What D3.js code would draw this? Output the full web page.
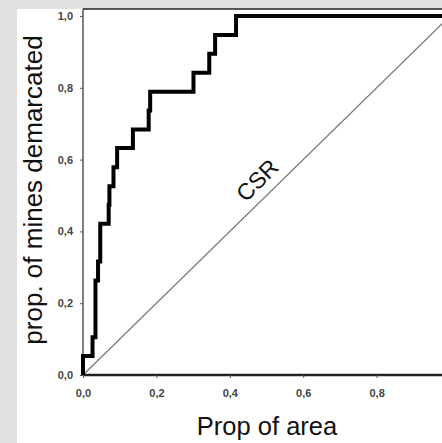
<!DOCTYPE html>
<html>
<head>
<meta charset="utf-8">
<script src="https://cdn.jsdelivr.net/npm/d3@7"></script>
<style>
  body { margin: 0; background: #e1e1e1; overflow: hidden; }
  svg { display: block; }
</style>
</head>
<body>
<script>
// step curve (proportion of area, proportion of mines)
var propArea  = [0, 0, 0.026, 0.034, 0.041, 0.047, 0.070, 0.072, 0.083, 0.093, 0.136, 0.179, 0.183, 0.301, 0.344, 0.360, 0.417, 1.0];
var propMines = [0, 0.053, 0.105, 0.263, 0.316, 0.421, 0.474, 0.526, 0.579, 0.632, 0.684, 0.737, 0.789, 0.842, 0.895, 0.947, 1.0, 1.0];
var xTicks = [0, 0.2, 0.4, 0.6, 0.8];
var yTicks = [0, 0.2, 0.4, 0.6, 0.8, 1.0];
var csrLine = [0, 1];

var main = function() {
  var W = 442, H = 443;
  var margin = {top: 9, left: 83};
  var font = "Liberation Sans, Arial, sans-serif";

  var svg = d3.select("body")
    .append("svg")
    .attr("width", W)
    .attr("height", H);

  // white panel
  svg.append("rect")
    .attr("x", 17).attr("y", margin.top)
    .attr("width", W - 17).attr("height", H - margin.top)
    .attr("fill", "#fff");

  var x = d3.scaleLinear().domain([0, 1]).range([margin.left, margin.left + 367]);
  var y = d3.scaleLinear().domain([0, 1]).range([375, 16]);

  var fmt = function(d) { return d3.format(".1f")(d).replace(".", ","); };

  // x axis
  var gx = svg.append("g")
    .attr("transform", "translate(0," + y(0) + ")")
    .call(d3.axisBottom(x).tickValues(xTicks).tickSize(3).tickSizeOuter(0).tickFormat(fmt));
  gx.select(".domain").attr("stroke", "#222").attr("stroke-width", 2.5)
    .attr("d", "M" + x(0) + ",0H" + W);
  gx.selectAll(".tick line").attr("stroke", "#555");
  gx.selectAll(".tick text")
    .attr("y", 22).attr("dy", 0)
    .attr("font-family", font)
    .attr("font-size", 11).attr("font-weight", "bold").attr("fill", "#444");

  // y axis
  var gy = svg.append("g")
    .attr("transform", "translate(" + x(0) + ",0)")
    .call(d3.axisLeft(y).tickValues(yTicks).tickSize(3).tickSizeOuter(0).tickFormat(fmt));
  gy.select(".domain").attr("stroke", "#555").attr("stroke-width", 1.5)
    .attr("d", "M0," + margin.top + "V" + y(0));
  gy.selectAll(".tick line").attr("stroke", "#555");
  gy.selectAll(".tick text")
    .attr("x", -10)
    .attr("font-family", font)
    .attr("font-size", 11).attr("font-weight", "bold").attr("fill", "#444");

  // top frame line
  svg.append("line")
    .attr("x1", x(0)).attr("x2", W)
    .attr("y1", margin.top).attr("y2", margin.top)
    .attr("stroke", "#222").attr("stroke-width", 1.5);

  // CSR diagonal
  svg.append("line")
    .attr("x1", x(csrLine[0])).attr("y1", y(csrLine[0]))
    .attr("x2", x(csrLine[1])).attr("y2", y(csrLine[1]))
    .attr("stroke", "#777").attr("stroke-width", 1.2);

  svg.append("text")
    .attr("transform", "translate(" + x(0.49) + "," + y(0.527) + ") rotate(-45)")
    .attr("text-anchor", "middle")
    .attr("font-family", font)
    .attr("font-size", 23)
    .attr("fill", "#111")
    .text("CSR");

  // step curve
  var pts = propArea.map(function(d, i) { return [d, propMines[i]]; });
  var line = d3.line()
    .x(function(d) { return x(d[0]); })
    .y(function(d) { return y(d[1]); })
    .curve(d3.curveStepAfter);
  svg.append("path")
    .datum(pts)
    .attr("d", line)
    .attr("fill", "none")
    .attr("stroke", "#000")
    .attr("stroke-width", 4)
    .attr("stroke-linejoin", "miter");

  // axis titles
  svg.append("text")
    .attr("x", 267).attr("y", 435)
    .attr("text-anchor", "middle")
    .attr("font-family", font)
    .attr("font-size", 25.5)
    .attr("fill", "#111")
    .text("Prop of area");

  svg.append("text")
    .attr("transform", "translate(42,190) rotate(-90)")
    .attr("text-anchor", "middle")
    .attr("font-family", font)
    .attr("font-size", 26)
    .attr("fill", "#111")
    .text("prop. of mines demarcated");
};

main();
</script>
</body>
</html>
